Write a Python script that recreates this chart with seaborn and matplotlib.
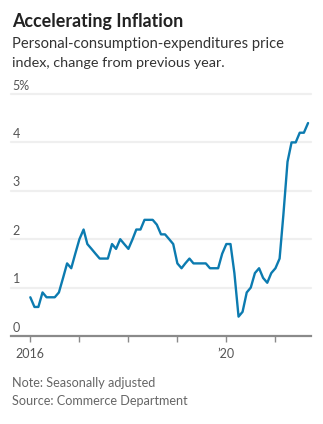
import matplotlib
matplotlib.use("Agg")
import matplotlib.pyplot as plt
import matplotlib.transforms as mtransforms
import pandas as pd
import seaborn as sns

# PCE price index, % change from a year earlier, monthly Jan 2016 - Sep 2021
months = pd.date_range("2016-01-01", periods=69, freq="MS")
pce_yoy = [
    0.8, 0.6, 0.6, 0.9, 0.8, 0.8, 0.8, 0.9, 1.2, 1.5, 1.4, 1.7,   # 2016
    2.0, 2.2, 1.9, 1.8, 1.7, 1.6, 1.6, 1.6, 1.9, 1.8, 2.0, 1.9,   # 2017
    1.8, 2.0, 2.2, 2.2, 2.4, 2.4, 2.4, 2.3, 2.1, 2.1, 2.0, 1.9,   # 2018
    1.5, 1.4, 1.5, 1.6, 1.5, 1.5, 1.5, 1.5, 1.4, 1.4, 1.4, 1.7,   # 2019
    1.9, 1.9, 1.3, 0.4, 0.5, 0.9, 1.0, 1.3, 1.4, 1.2, 1.1, 1.3,   # 2020
    1.4, 1.6, 2.5, 3.6, 4.0, 4.0, 4.2, 4.2, 4.4,                  # 2021
]
y_ticks = [0, 1, 2, 3, 4, 5]
y_tick_labels = ["0", "1", "2", "3", "4", "5%"]
x_tick_years = [2016, 2017, 2018, 2019, 2020, 2021]
x_tick_labels = ["2016", "", "", "", "\u201920", ""]

df = pd.DataFrame({"month": months, "pce": pce_yoy})

sns.set_theme(style="white")
plt.rcParams["font.family"] = ["Lato", "DejaVu Sans"]

fig = plt.figure(figsize=(3.23, 4.24), dpi=100)
ax = fig.add_axes([11 / 323, 88 / 424, 300 / 323, 242 / 424])

line_color = "#0c7bb0"
sns.lineplot(data=df, x="month", y="pce", ax=ax, color=line_color,
             linewidth=1.7, zorder=3)

ax.set_ylim(0, 5)
ax.set_xlim(pd.Timestamp("2015-08-10"), pd.Timestamp("2021-09-23"))

# horizontal gridlines
for v in y_ticks[1:]:
    ax.axhline(v, color="#efefef", linewidth=1.6, zorder=1, clip_on=False)

# y labels sit on top of their gridlines, flush left
trans = mtransforms.blended_transform_factory(ax.transAxes, ax.transData)
for v, lab in zip(y_ticks, y_tick_labels):
    ax.text(0.005, v + 0.05, lab, transform=trans, ha="left", va="bottom",
            fontsize=9, color="#555555")

ax.set_yticks([])
ax.set_xlabel("")
ax.set_ylabel("")

for side in ["top", "right", "left"]:
    ax.spines[side].set_visible(False)
ax.spines["bottom"].set_color("#8a8a8a")
ax.spines["bottom"].set_linewidth(1.6)

ax.set_xticks([pd.Timestamp(f"{y}-01-01") for y in x_tick_years])
ax.set_xticklabels(x_tick_labels)
ax.tick_params(axis="x", which="major", length=4, width=1, color="#8a8a8a",
               labelsize=9, labelcolor="#555555", pad=5, bottom=True)

renderer = fig.canvas.get_renderer()


def header_text(y_px, s, width_px, size, **kw):
    """Place a left-aligned line of text and size it to a given pixel width."""
    t = fig.text(12 / 323, 1 - y_px / 424, s, fontsize=size,
                 ha="left", va="baseline", **kw)
    w = t.get_window_extent(renderer).width
    t.set_fontsize(size * width_px / w)
    return t


header_text(27, "Accelerating Inflation", 172, 14, fontweight="bold",
            color="#222222")
header_text(48, "Personal-consumption-expenditures price", 273, 10.5,
            color="#333333")
header_text(67, "index, change from previous year.", 214, 10.5,
            color="#333333")
header_text(387, "Note: Seasonally adjusted", 144, 8.5, color="#666666")
header_text(405, "Source: Commerce Department", 176, 8.5, color="#666666")

fig.savefig("out.png", dpi=100)
